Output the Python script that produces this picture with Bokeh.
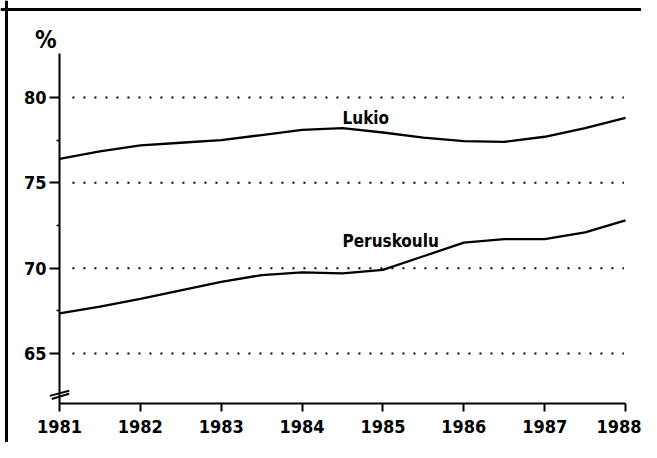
from bokeh.plotting import figure
from bokeh.models import FixedTicker, Label, Range1d, Span
from bokeh.embed import file_html
from bokeh.resources import INLINE

# ---- data ----
years = [1981, 1981.5, 1982, 1982.5, 1983, 1983.5, 1984, 1984.5,
         1985, 1985.5, 1986, 1986.5, 1987, 1987.5, 1988]
lukio = [76.4, 76.85, 77.2, 77.35, 77.5, 77.8, 78.1, 78.2,
         77.95, 77.65, 77.45, 77.4, 77.7, 78.2, 78.8]
peruskoulu = [67.35, 67.75, 68.2, 68.7, 69.2, 69.6, 69.75, 69.7,
              69.9, 70.7, 71.5, 71.7, 71.7, 72.1, 72.8]
year_ticks = [1981, 1982, 1983, 1984, 1985, 1986, 1987, 1988]
year_labels = ["1981", "1982", "1983", "1984", "1985", "1986", "1987", "1988"]
y_ticks = [65, 70, 75, 80]
y_minor = [67.5, 72.5, 77.5]
series_names = ["Lukio", "Peruskoulu"]
unit_label = "%"

FONT = "Liberation Sans Narrow, DejaVu Sans Condensed, sans-serif"

X0, X1 = 1981, 1988          # axis extent
Y0, Y1 = 62.07, 82.58        # axis extent

p = figure(width=641, height=442, output_backend="svg", toolbar_location=None,
           x_range=Range1d(1980.2703, 1988.1976), y_range=Range1d(59.789, 85.6825),
           min_border_left=0, min_border_right=0, min_border_top=0,
           min_border_bottom=0)
p.outline_line_color = None
p.background_fill_color = "white"
p.border_fill_color = "white"

# axes placed inside the frame
p.xaxis.fixed_location = Y0
p.yaxis.fixed_location = X0
p.xaxis.bounds = (X0, X1)
p.yaxis.bounds = (Y0, Y1)
p.xaxis.ticker = FixedTicker(ticks=year_ticks, minor_ticks=[])
p.xaxis.major_label_overrides = {t: l for t, l in zip(year_ticks, year_labels)}
p.yaxis.ticker = FixedTicker(ticks=y_ticks, minor_ticks=y_minor)
for ax in (p.xaxis, p.yaxis):
    ax.axis_line_width = 2
    ax.axis_line_color = "black"
    ax.major_tick_line_width = 2
    ax.major_tick_line_color = "black"
    ax.major_tick_in = 0
    ax.major_label_text_font = FONT
    ax.major_label_text_font_style = "bold"
    ax.major_label_text_color = "black"
p.xaxis.major_tick_out = 8
p.xaxis.minor_tick_line_color = None
p.xaxis.major_label_text_font_size = "18px"
p.xaxis.major_label_standoff = 8
p.yaxis.major_tick_out = 10
p.yaxis.minor_tick_out = 3
p.yaxis.minor_tick_in = 0
p.yaxis.minor_tick_line_width = 1.5
p.yaxis.minor_tick_line_color = "black"
p.yaxis.major_label_text_font_size = "18px"
p.yaxis.major_label_standoff = 3

# dotted reference lines
p.xgrid.grid_line_color = None
p.ygrid.grid_line_color = None
p.segment(x0=[X0 + 0.16] * len(y_ticks), y0=y_ticks,
          x1=[X1 - 0.02] * len(y_ticks), y1=y_ticks,
          line_color="black", line_width=2, line_dash="2 9")

# page frame (left and top edges of the scanned box)
p.add_layout(Span(location=p.x_range.start + 6 / 80.86, dimension="height",
                  line_color="black", line_width=3))
p.add_layout(Span(location=p.y_range.end - 9 / 17.07, dimension="width",
                  line_color="black", line_width=3))

# lines
p.line(years, lukio, line_color="black", line_width=2.3)
p.line(years, peruskoulu, line_color="black", line_width=2.3)

# series labels
p.add_layout(Label(x=1984.5, y=78.77, text=series_names[0],
                   text_font=FONT, text_font_style="bold", text_color="black",
                   text_font_size="17px", text_baseline="alphabetic"))
p.add_layout(Label(x=1984.5, y=71.58, text=series_names[1],
                   text_font=FONT, text_font_style="bold", text_color="black",
                   text_font_size="17px", text_baseline="alphabetic"))

# unit label above the axis
p.add_layout(Label(x=1980.83, y=83.34, text=unit_label,
                   text_font=FONT, text_font_style="bold", text_color="black",
                   text_font_size="24px", text_align="center",
                   text_baseline="middle"))

# axis break mark, relative to the bottom of the axis
dx = 0.12
p.segment(x0=[X0 - dx, X0 - dx * 0.8], y0=[Y0 + 0.45, Y0 + 0.27],
          x1=[X0 + dx, X0 + dx], y1=[Y0 + 0.75, Y0 + 0.57],
          line_color="black", line_width=2)

open("out.html", "w").write(file_html(p, INLINE))
